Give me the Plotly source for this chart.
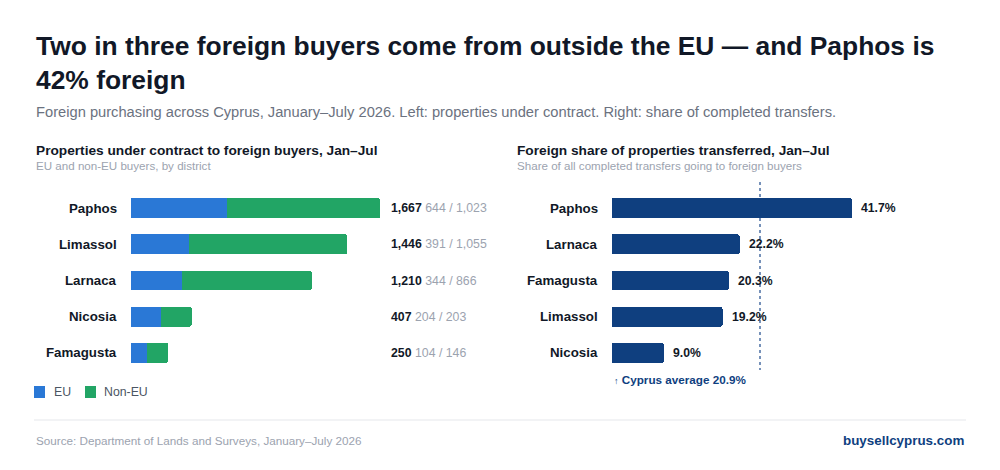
import plotly.graph_objects as go

# ---- data ----
districts_left = ['Paphos', 'Limassol', 'Larnaca', 'Nicosia', 'Famagusta']
eu_buyers = [644, 391, 344, 204, 104]
non_eu_buyers = [1023, 1055, 866, 203, 146]

districts_right = ['Paphos', 'Larnaca', 'Famagusta', 'Limassol', 'Nicosia']
foreign_share = [41.7, 22.2, 20.3, 19.2, 9.0]
cyprus_avg = 20.9

EU_BLUE = '#2a78d6'
NONEU_GREEN = '#22a565'
NAVY = '#0f3f7f'
DARK = '#111827'
GREY = '#6b7280'
LIGHT = '#9ca3af'
FONT = 'Liberation Sans, Arial, sans-serif'


def px(x):
    return x / 1000


def py(y):
    return 1 - y / 470


totals = [e + n for e, n in zip(eu_buyers, non_eu_buyers)]

fig = go.Figure()
fig.add_trace(go.Bar(y=districts_left, x=eu_buyers, orientation='h', name='EU',
                     marker=dict(color=EU_BLUE, cornerradius=2, line=dict(width=0)),
                     width=0.55, xaxis='x', yaxis='y', hoverinfo='x+y'))
fig.add_trace(go.Bar(y=districts_left, x=non_eu_buyers, orientation='h', name='Non-EU',
                     marker=dict(color=NONEU_GREEN, cornerradius=2, line=dict(width=0)),
                     width=0.55, xaxis='x', yaxis='y', hoverinfo='x+y'))
fig.add_trace(go.Bar(y=districts_right, x=foreign_share, orientation='h', name='Foreign share',
                     marker=dict(color=NAVY, cornerradius=2, line=dict(width=0)),
                     width=0.55, xaxis='x2', yaxis='y2', hoverinfo='x+y'))

ydom = [py(371), py(190)]
hidden = dict(showgrid=False, zeroline=False, showticklabels=False, ticks='', fixedrange=True)

fig.update_layout(
    width=1000, height=470,
    margin=dict(l=0, r=0, t=0, b=0),
    paper_bgcolor='white', plot_bgcolor='rgba(0,0,0,0)',
    barmode='stack', showlegend=False,
    font=dict(family=FONT, color=DARK),
    xaxis=dict(domain=[px(131), px(380)], range=[0, max(totals)], **hidden),
    yaxis=dict(domain=ydom, categoryorder='array', categoryarray=districts_left[::-1],
               anchor='x', **hidden),
    xaxis2=dict(domain=[px(612), px(852)], range=[0, max(foreign_share)], anchor='y2', **hidden),
    yaxis2=dict(domain=ydom, categoryorder='array', categoryarray=districts_right[::-1],
                anchor='x2', **hidden),
)

ann = []


def text(x, y, s, size, color=DARK, bold=False, xanchor='left', **kw):
    if bold:
        s = '<b>' + s + '</b>'
    d = dict(x=x, y=y, text=s, showarrow=False, xanchor=xanchor, yanchor='middle',
             font=dict(size=size, color=color, family=FONT), align=xanchor if xanchor != 'center' else 'center')
    d.setdefault('xref', 'paper')
    d.setdefault('yref', 'paper')
    d.update(kw)
    ann.append(d)


# header
text(px(34), py(63), 'Two in three foreign buyers come from outside the EU — and Paphos is<br>42% foreign',
     26.4, DARK, bold=True)
text(px(34), py(112), 'Foreign purchasing across Cyprus, January–July 2026. Left: properties under contract. '
     'Right: share of completed transfers.', 14.7, GREY)

# panel headers
text(px(34), py(151), 'Properties under contract to foreign buyers, Jan–Jul', 13.7, DARK, bold=True)
text(px(34), py(166), 'EU and non-EU buyers, by district', 11.6, LIGHT)
text(px(515), py(151), 'Foreign share of properties transferred, Jan–Jul', 13.7, DARK, bold=True)
text(px(515), py(166), 'Share of all completed transfers going to foreign buyers', 11.6, LIGHT)

# left categories and value labels
for d, e, n, t in zip(districts_left, eu_buyers, non_eu_buyers, totals):
    text(px(119), d, d, 13.3, DARK, bold=True, xanchor='right', yref='y')
    text(px(389), d, '<b>{:,}</b> <span style="color:{}">{:,} / {:,}</span>'.format(t, LIGHT, e, n),
         12.3, DARK, yref='y')

# right categories and value labels
for d, v in zip(districts_right, foreign_share):
    text(px(600), d, d, 13.3, DARK, bold=True, xanchor='right', yref='y2')
    text(v, d, '{:.1f}%'.format(v), 12.2, DARK, bold=True, xref='x2', yref='y2', xshift=7)

text(px(612), py(379), '<span style="font-size:9px">↑</span> Cyprus average {:.1f}%'.format(cyprus_avg),
     11.7, NAVY, bold=True)

# legend
text(px(52), py(392), 'EU', 12.3, '#4b5563')
text(px(102), py(392), 'Non-EU', 12.3, '#4b5563')

# footer
text(px(34), py(440), 'Source: Department of Lands and Surveys, January–July 2026', 11.7, LIGHT)
text(px(966), py(440), 'buysellcyprus.com', 13.4, NAVY, bold=True, xanchor='right')

fig.update_layout(annotations=ann)

shapes = [
    # average reference line
    dict(type='line', xref='paper', yref='paper', x0=px(760), x1=px(760), y0=py(182), y1=py(370),
         line=dict(color='#4a6ea3', width=1.5, dash='3px,3px'), layer='below'),
    # legend swatches
    dict(type='rect', xref='paper', yref='paper', x0=px(34), x1=px(45), y0=py(398), y1=py(386),
         fillcolor=EU_BLUE, line=dict(width=0)),
    dict(type='rect', xref='paper', yref='paper', x0=px(85), x1=px(96), y0=py(398), y1=py(386),
         fillcolor=NONEU_GREEN, line=dict(width=0)),
    # footer rule
    dict(type='line', xref='paper', yref='paper', x0=px(34), x1=px(966), y0=py(420), y1=py(420),
         line=dict(color='#e5e7eb', width=1)),
]
fig.update_layout(shapes=shapes)

fig.write_html('out.html', config={'displayModeBar': False},
               post_script="document.body.style.margin='0px';")
